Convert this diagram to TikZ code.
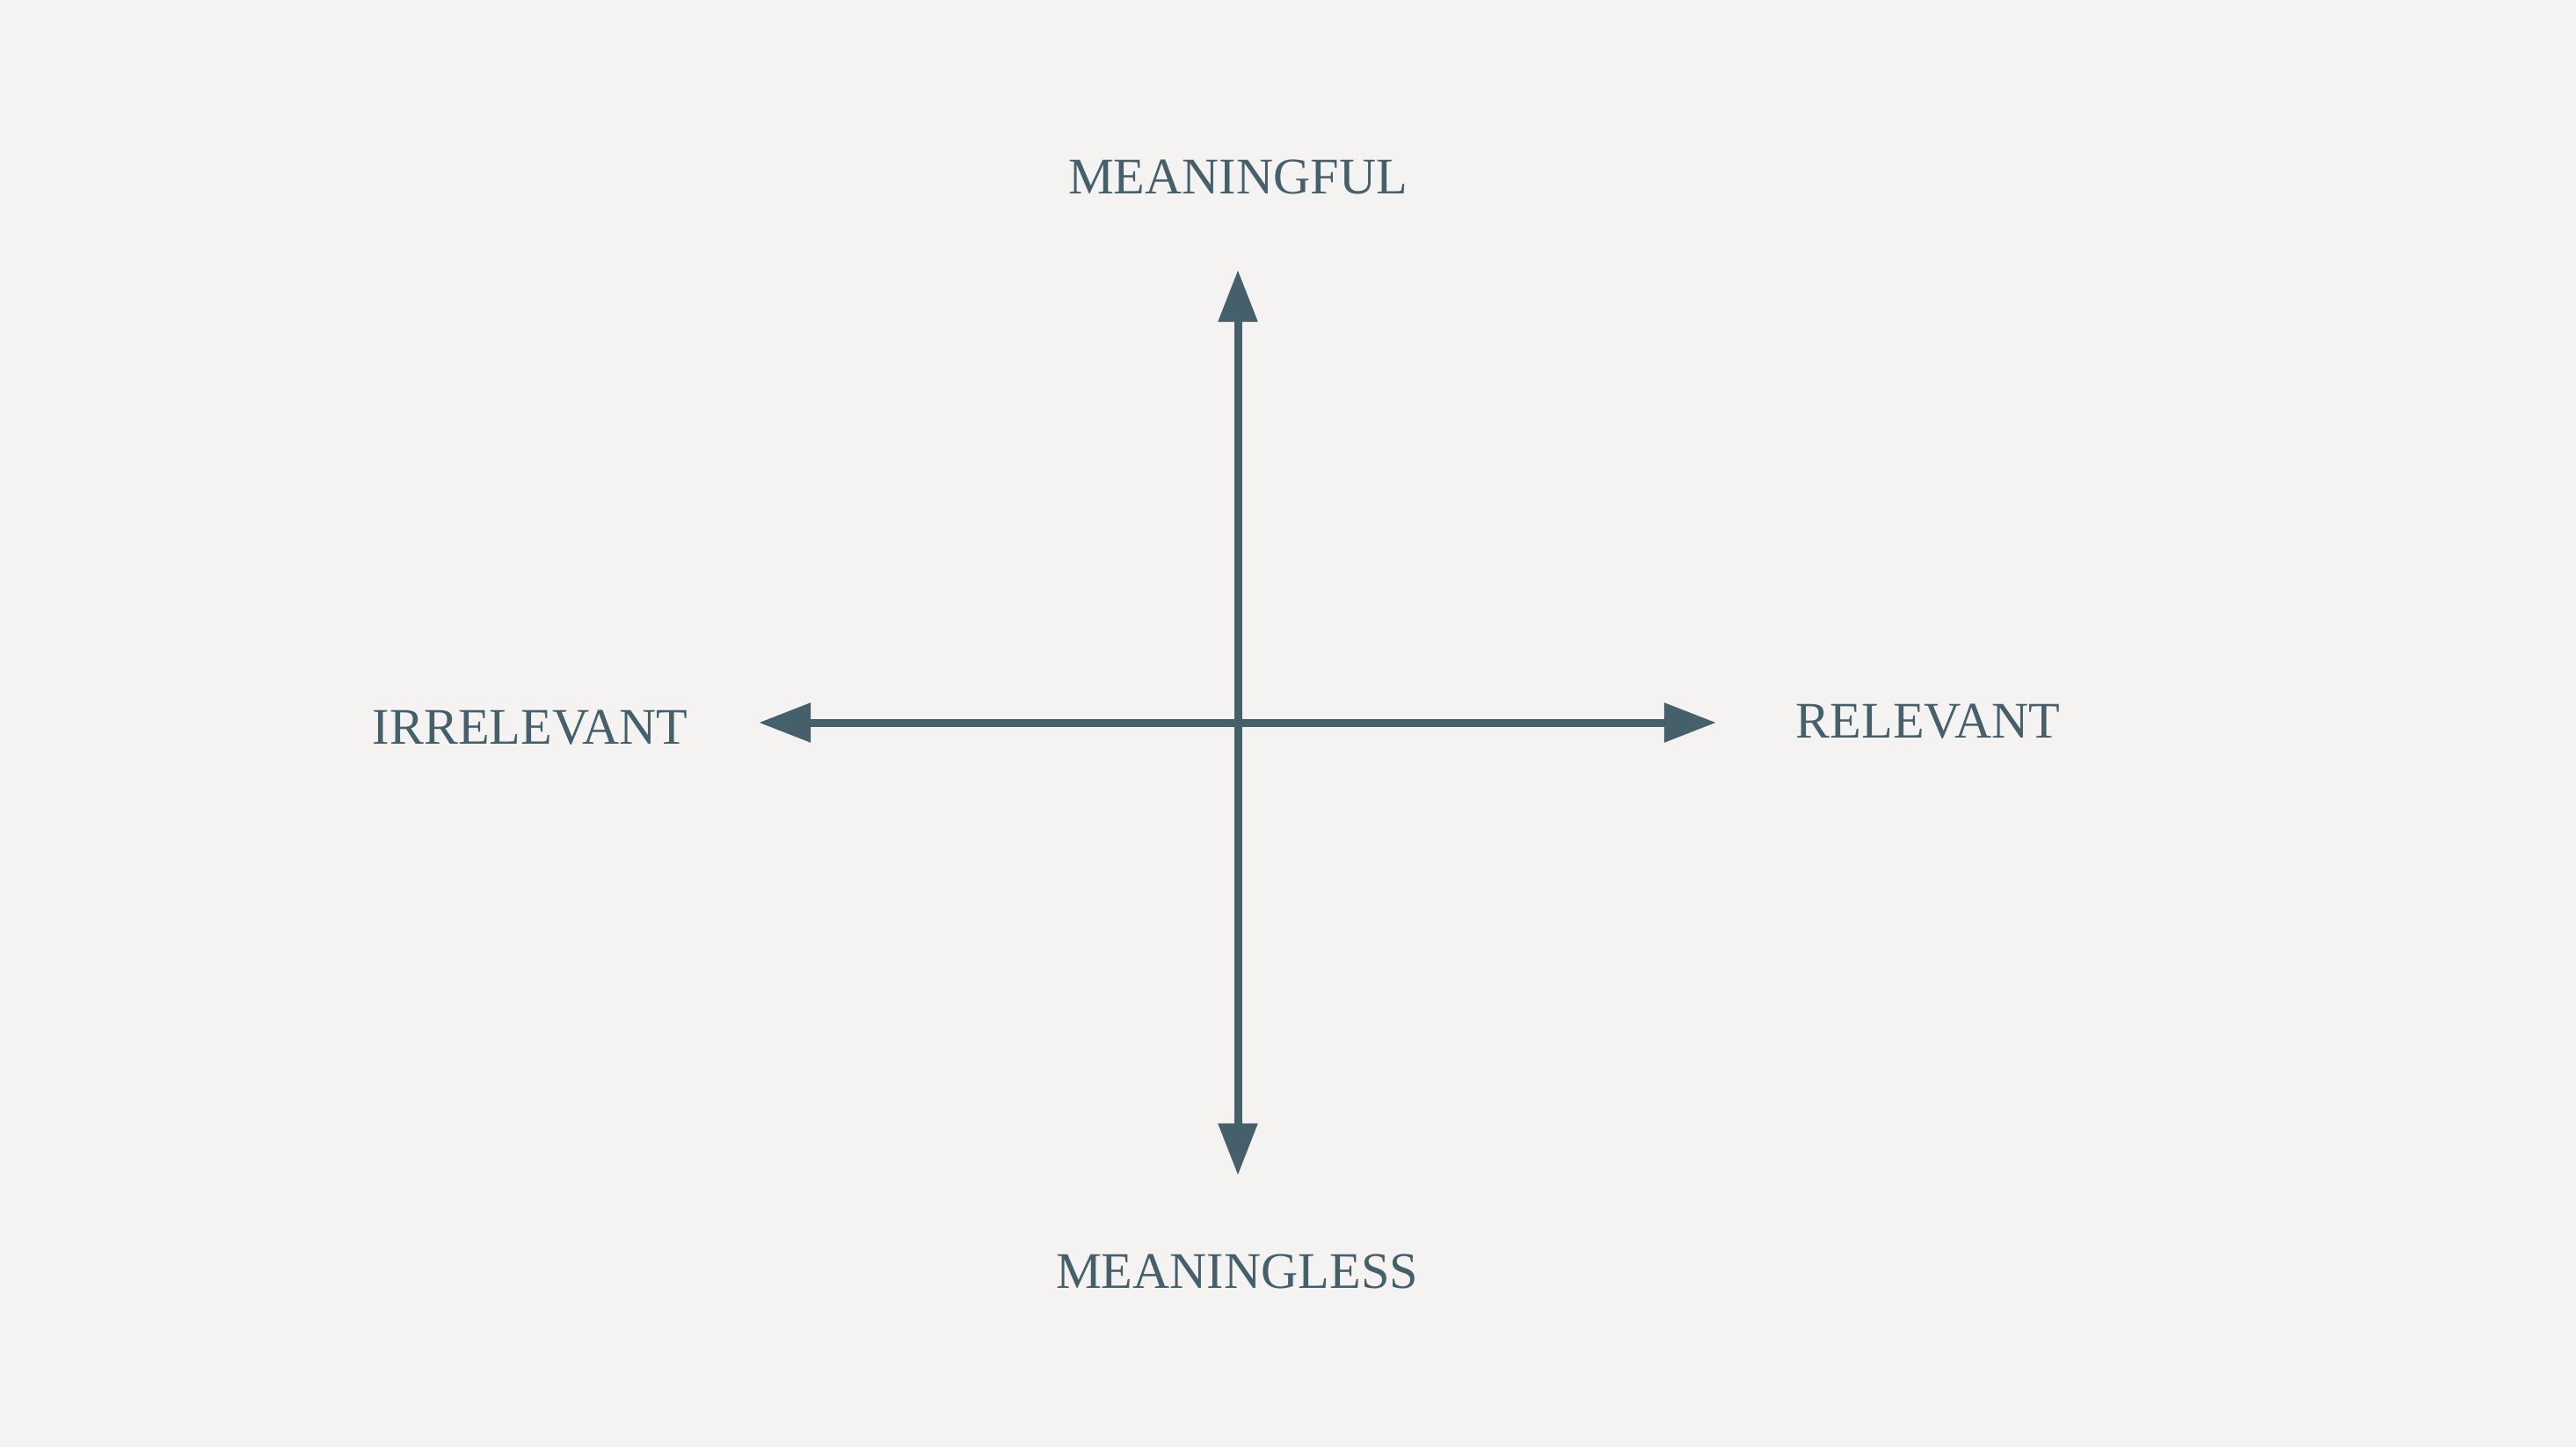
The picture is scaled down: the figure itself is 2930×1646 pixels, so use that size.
\documentclass[tikz,border=0pt]{standalone}
\usepackage{fontspec}
\setmainfont{Liberation Serif}
\usetikzlibrary{arrows.meta}
\definecolor{bgc}{HTML}{F4F3F1}
\definecolor{ink}{HTML}{455F6B}
\tikzset{
  axis/.style={draw=ink, line width=2.56pt, {Triangle[length=16.8pt,width=12.2pt]}-{Triangle[length=16.8pt,width=12.2pt]}},
  lbl/.style={text=ink, inner sep=0pt, font=\fontsize{16.6}{20}\selectfont}
}
\begin{document}
\begin{tikzpicture}[x=0.01cm,y=-0.01cm]
\fill[bgc] (0,0) rectangle (2930,1646);
\useasboundingbox (0,0) rectangle (2930,1646);
\coordinate (top) at (1408,307);
\coordinate (bot) at (1408,1337);
\coordinate (lft) at (863,822);
\coordinate (rgt) at (1952,822);
\draw[axis] (top) -- (bot);
\draw[axis] (lft) -- (rgt);
\node[lbl, anchor=base] (mf) at (1408,221) {MEANINGFUL};
\node[lbl, anchor=base] (ml) at (1407,1465) {MEANINGLESS};
\node[lbl, anchor=base west] (ir) at (423,846) {IRRELEVANT};
\node[lbl, anchor=base west] (re) at (2042,839) {RELEVANT};
\end{tikzpicture}
\end{document}
